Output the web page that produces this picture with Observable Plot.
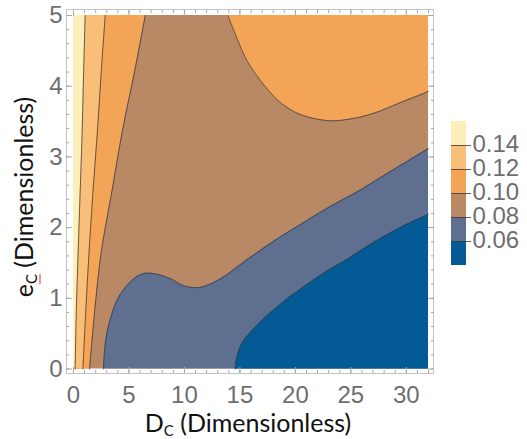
<!DOCTYPE html>
<html><head><meta charset="utf-8">
<script src="https://cdn.jsdelivr.net/npm/d3@7"></script>
<script src="https://cdn.jsdelivr.net/npm/@observablehq/plot@0.6"></script>
<style>
body{margin:0;background:#fff;}
#wrap{position:relative;width:527px;height:439px;overflow:hidden;background:#fff;}
#main{position:absolute;left:0;top:0;}
#legend{position:absolute;left:440px;top:0;}
.ttl{position:absolute;white-space:nowrap;font-family:Lato,"Open Sans",sans-serif;font-size:25px;color:#111;line-height:1;}
.ttl sub{font-size:15px;vertical-align:-4px;line-height:0;}
#xlabel{left:248px;top:410px;transform:translate(-50%,0);}
#ylabel{left:23px;top:197px;transform:translate(-50%,-50%) rotate(-90deg);}
.sq{text-decoration:underline;text-decoration-color:#e03030;text-underline-offset:3px;}
</style></head><body>
<div id="wrap">
  <div id="main"></div>
  <div id="legend"></div>
  <div id="xlabel" class="ttl">D<sub>C</sub> (Dimensionless)</div>
  <div id="ylabel" class="ttl">e<sub class="sq">C</sub> (Dimensionless)</div>
</div>
<script>
// ---- data (D_C, e_C) points along each contour ----
const xDomain = [0, 32];
const yDomain = [0, 5];
const xTicks = [0, 5, 10, 15, 20, 25, 30];
const yTicks = [0, 1, 2, 3, 4, 5];
const levels = [0.06, 0.08, 0.10, 0.12, 0.14];
const levelLabels = ["0.06", "0.08", "0.10", "0.12", "0.14"];
const bandColors = ["#045a95", "#5f6f90", "#b98966", "#f4a456", "#f9bf79", "#fcf0ba"]; // <0.06 ... >0.14

// left-side contours, ordered by e
const c014 = [[0.15,0],[0.25,0.8],[0.42,1.65],[0.6,2.5],[0.77,3.3],[0.88,4.0],[1.05,5]];
const c012 = [[0.85,0],[1.1,0.8],[1.4,1.65],[1.75,2.5],[2.15,3.35],[2.5,4.2],[2.86,5]];
const c010L = [[1.45,0],[1.9,0.8],[2.5,1.65],[3.45,2.5],[4.45,3.4],[5.5,4.2],[6.47,5]];
// upper-right 0.10 contour, ordered by D
const c010R = [[13.92,5],[14.58,4.74],[15.48,4.41],[16.38,4.18],[17.58,3.94],[18.79,3.75],[20.29,3.61],[21.79,3.54],[23.3,3.51],[25.1,3.54],[26.5,3.59],[27.65,3.65],[29.18,3.75],[31.9,3.92],[32,3.93]];
// 0.08 contour, ordered by D
const c008 = [[2.7,0],[2.8,0.26],[3.0,0.5],[3.37,0.73],[3.91,0.97],[4.66,1.15],[5.56,1.29],[6.31,1.35],[7.21,1.35],[8.72,1.28],[9.9,1.18],[11.15,1.15],[12.3,1.2],[13.7,1.32],[15.5,1.53],[18.17,1.82],[20.2,2.02],[23.15,2.3],[25.5,2.5],[27.7,2.71],[31.9,3.11],[32,3.12]];
// 0.06 contour, ordered by D
const c006 = [[14.58,0],[14.73,0.17],[15.18,0.36],[16.09,0.54],[17.29,0.73],[19.09,0.97],[21.19,1.21],[22.7,1.37],[24.35,1.52],[26.75,1.76],[29.2,1.98],[31.9,2.18],[32,2.19]];

const curve = "catmull-rom";
const lineStyle = {stroke: "#3a3a3a", strokeOpacity: 0.75, strokeWidth: 1, curve};
const tickColor = "#a8a8a8";
const labelColor = "#6e6e6e";

const main = Plot.plot({
  width: 440, height: 439,
  marginLeft: 66, marginRight: 7, marginTop: 9, marginBottom: 66,
  x: {domain: xDomain, insetLeft: 7, insetRight: 5},
  y: {domain: yDomain, insetTop: 6, insetBottom: 4.5},
  style: {fontFamily: "'Liberation Sans', Arial, sans-serif", background: "#fff"},
  marks: [
    Plot.rect([xDomain], {x1: d => d[0], x2: d => d[1], y1: () => yDomain[0], y2: () => yDomain[1], fill: bandColors[2]}),
    Plot.areaX(c010L, {y: d => d[1], x1: () => xDomain[0], x2: d => d[0], fill: bandColors[3], curve}),
    Plot.areaX(c012, {y: d => d[1], x1: () => xDomain[0], x2: d => d[0], fill: bandColors[4], curve}),
    Plot.areaX(c014, {y: d => d[1], x1: () => xDomain[0], x2: d => d[0], fill: bandColors[5], curve}),
    Plot.areaY(c010R, {x: d => d[0], y1: d => d[1], y2: () => yDomain[1], fill: bandColors[3], curve}),
    Plot.areaY(c008, {x: d => d[0], y1: () => yDomain[0], y2: d => d[1], fill: bandColors[1], curve}),
    Plot.areaY(c006, {x: d => d[0], y1: () => yDomain[0], y2: d => d[1], fill: bandColors[0], curve}),
    Plot.line(c014, {x: d => d[0], y: d => d[1], ...lineStyle}),
    Plot.line(c012, {x: d => d[0], y: d => d[1], ...lineStyle}),
    Plot.line(c010L, {x: d => d[0], y: d => d[1], ...lineStyle}),
    Plot.line(c010R, {x: d => d[0], y: d => d[1], ...lineStyle}),
    Plot.line(c008, {x: d => d[0], y: d => d[1], ...lineStyle}),
    Plot.line(c006, {x: d => d[0], y: d => d[1], ...lineStyle}),
    Plot.frame({stroke: "#c4c4c4", strokeWidth: 1}),
    // major ticks (inward) on all four sides
    Plot.axisX({ticks: xTicks, anchor: "bottom", text: null, label: null, tickSize: 6, dy: -6, stroke: tickColor}),
    Plot.axisX({ticks: xTicks, anchor: "top", text: null, label: null, tickSize: 6, dy: 6, stroke: tickColor}),
    Plot.axisY({ticks: yTicks, anchor: "left", text: null, label: null, tickSize: 6, dx: 6, stroke: tickColor}),
    Plot.axisY({ticks: yTicks, anchor: "right", text: null, label: null, tickSize: 6, dx: -6, stroke: tickColor}),
    // minor ticks
    Plot.axisX({ticks: d3.range(0, 33, 1), anchor: "bottom", text: null, label: null, tickSize: 3, dy: -3, stroke: tickColor}),
    Plot.axisX({ticks: d3.range(0, 33, 1), anchor: "top", text: null, label: null, tickSize: 3, dy: 3, stroke: tickColor}),
    Plot.axisY({ticks: d3.range(0, 5.01, 0.2), anchor: "left", text: null, label: null, tickSize: 3, dx: 3, stroke: tickColor}),
    Plot.axisY({ticks: d3.range(0, 5.01, 0.2), anchor: "right", text: null, label: null, tickSize: 3, dx: -3, stroke: tickColor}),
    // tick labels
    Plot.axisX({ticks: xTicks, anchor: "bottom", tickSize: 0, tickPadding: 12, label: null, fontSize: 24, color: labelColor, tickFormat: d => String(d)}),
    Plot.axisY({ticks: yTicks, anchor: "left", tickSize: 0, tickPadding: 4, label: null, fontSize: 24, color: labelColor, tickFormat: d => String(d)})
  ]
});
document.getElementById("main").appendChild(main);

// ---- legend ----
const bands = bandColors.map((c, i) => ({lo: i === 0 ? 0.04 : levels[i - 1], hi: i === levels.length ? 0.16 : levels[i], color: c}));
const legend = Plot.plot({
  width: 87, height: 439,
  marginLeft: 11, marginRight: 61, marginTop: 121, marginBottom: 174,
  x: {axis: null},
  y: {domain: [0.04, 0.16], axis: null},
  style: {fontFamily: "'Liberation Sans', Arial, sans-serif", background: "transparent", overflow: "visible"},
  marks: [
    Plot.rect(bands, {y1: "lo", y2: "hi", fill: "color"}),
    Plot.ruleY(levels, {y: d => d, stroke: "#3a3a3a", strokeOpacity: 0.8, strokeWidth: 1, insetRight: -5}),
    Plot.text(levels, {y: d => d, text: (d, i) => levelLabels[i], frameAnchor: "right", dx: 6, textAnchor: "start", fontSize: 24, lineHeight: 0.9, fill: labelColor})
  ]
});
document.getElementById("legend").appendChild(legend);
</script>
</body></html>
